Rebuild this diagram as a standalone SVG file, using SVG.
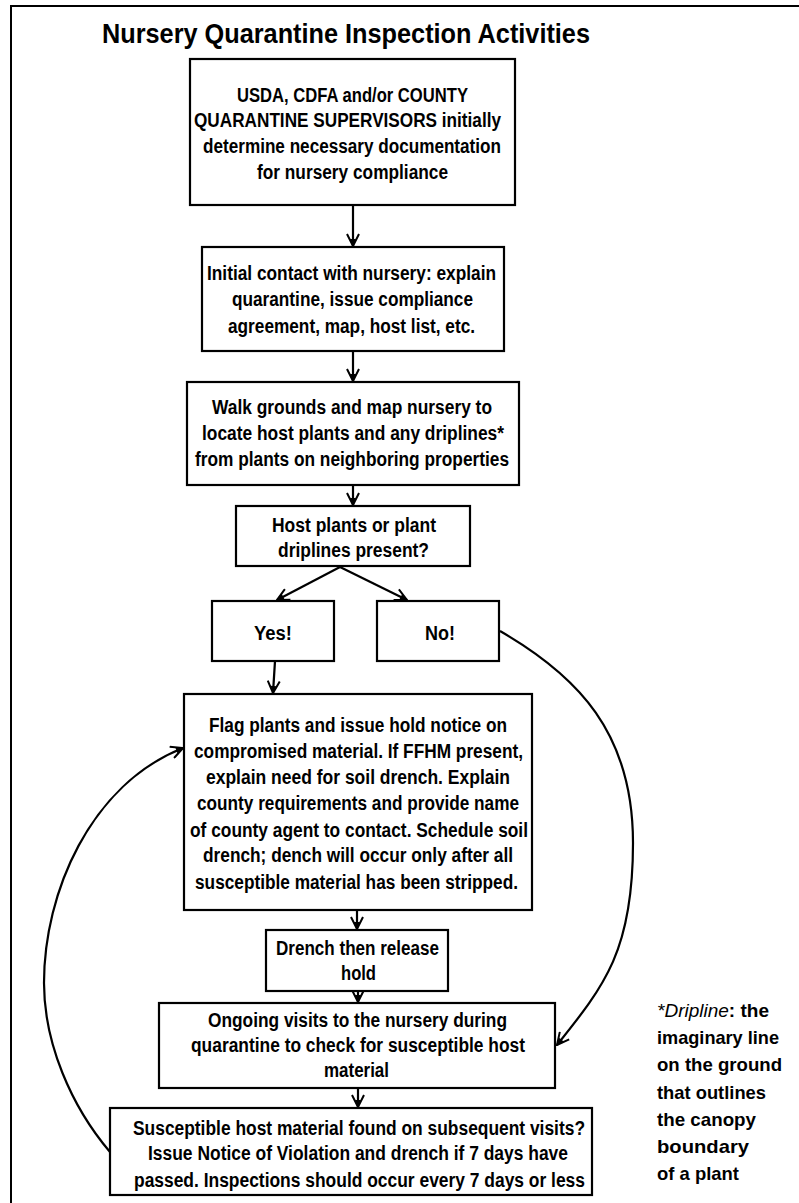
<svg xmlns="http://www.w3.org/2000/svg" width="799" height="1203" viewBox="0 0 799 1203">
<style>
  .box { fill: #ffffff; stroke: #000000; stroke-width: 2.2; }
  .t { font-family: "Liberation Sans", Arial, sans-serif; font-weight: bold; font-size: 20px; fill: #000000; }
  .title { font-family: "Liberation Sans", Arial, sans-serif; font-weight: bold; font-size: 27px; fill: #000000; }
  .note { font-family: "Liberation Sans", Arial, sans-serif; font-weight: bold; font-size: 19px; fill: #000000; }
  .c { fill: none; stroke: #000000; stroke-width: 2.2; }
</style>
<defs>
  <marker id="ah" viewBox="0 0 14 14" refX="13" refY="7" markerWidth="14" markerHeight="14" markerUnits="userSpaceOnUse" orient="auto">
    <path d="M1,1 L13,7 L1,13" fill="none" stroke="#000" stroke-width="2"/>
    <path d="M6,4 L13,7 L6,10 Z" fill="#000"/>
  </marker>
</defs>
<rect x="0" y="0" width="799" height="1203" fill="#ffffff"/>
<path d="M11,1203 V6 H799" fill="none" stroke="#000" stroke-width="2"/>
<text class="title" x="102" y="43" textLength="488" lengthAdjust="spacingAndGlyphs">Nursery Quarantine Inspection Activities</text>

<g id="connectors">
  <line class="c" x1="353" y1="205" x2="353" y2="246" marker-end="url(#ah)"/>
  <line class="c" x1="353" y1="351" x2="353" y2="381" marker-end="url(#ah)"/>
  <line class="c" x1="353" y1="485" x2="353" y2="505" marker-end="url(#ah)"/>
  <line class="c" x1="340" y1="567" x2="277" y2="600" marker-end="url(#ah)"/>
  <line class="c" x1="340" y1="567" x2="407" y2="600" marker-end="url(#ah)"/>
  <line class="c" x1="275" y1="661" x2="273" y2="693" marker-end="url(#ah)"/>
  <line class="c" x1="357" y1="910" x2="357" y2="929" marker-end="url(#ah)"/>
  <line class="c" x1="358" y1="991" x2="358" y2="1002" marker-end="url(#ah)"/>
  <line class="c" x1="358" y1="1088" x2="358" y2="1107" marker-end="url(#ah)"/>
  <path class="c" d="M500,631 C578,676 633,733 633,843 C633,950 605,985 557,1045" marker-end="url(#ah)"/>
  <path class="c" d="M110,1152 C71,1106 44,1043 44,983 C44,893 90,785 183,748" marker-end="url(#ah)"/>
</g>

<g id="n1">
  <rect class="box" x="190" y="59" width="325" height="146"/>
  <text class="t" x="237" y="102" textLength="231" lengthAdjust="spacingAndGlyphs">USDA, CDFA and/or COUNTY</text>
  <text class="t" x="194" y="127" textLength="307" lengthAdjust="spacingAndGlyphs">QUARANTINE SUPERVISORS initially</text>
  <text class="t" x="203" y="153" textLength="298" lengthAdjust="spacingAndGlyphs">determine necessary documentation</text>
  <text class="t" x="257" y="179" textLength="191" lengthAdjust="spacingAndGlyphs">for nursery compliance</text>
</g>
<g id="n2">
  <rect class="box" x="202" y="247" width="302" height="104"/>
  <text class="t" x="207" y="280" textLength="289" lengthAdjust="spacingAndGlyphs">Initial contact with nursery: explain</text>
  <text class="t" x="232" y="306" textLength="241" lengthAdjust="spacingAndGlyphs">quarantine, issue compliance</text>
  <text class="t" x="228" y="333" textLength="247" lengthAdjust="spacingAndGlyphs">agreement, map, host list, etc.</text>
</g>
<g id="n3">
  <rect class="box" x="187" y="382" width="332" height="103"/>
  <text class="t" x="212" y="414" textLength="280" lengthAdjust="spacingAndGlyphs">Walk grounds and map nursery to</text>
  <text class="t" x="202" y="440" textLength="302" lengthAdjust="spacingAndGlyphs">locate host plants and any driplines*</text>
  <text class="t" x="195" y="466" textLength="314" lengthAdjust="spacingAndGlyphs">from plants on neighboring properties</text>
</g>
<g id="n4">
  <rect class="box" x="236" y="506" width="234" height="60"/>
  <text class="t" x="272" y="532" textLength="164" lengthAdjust="spacingAndGlyphs">Host plants or plant</text>
  <text class="t" x="278" y="557" textLength="151" lengthAdjust="spacingAndGlyphs">driplines present?</text>
</g>
<g id="yes">
  <rect class="box" x="212" y="601" width="122" height="60"/>
  <text class="t" x="254" y="640" textLength="38" lengthAdjust="spacingAndGlyphs">Yes!</text>
</g>
<g id="no">
  <rect class="box" x="377" y="601" width="122" height="60"/>
  <text class="t" x="425" y="640" textLength="30" lengthAdjust="spacingAndGlyphs">No!</text>
</g>
<g id="flag">
  <rect class="box" x="184" y="694" width="348" height="216"/>
  <text class="t" x="209" y="732" textLength="298" lengthAdjust="spacingAndGlyphs">Flag plants and issue hold notice on</text>
  <text class="t" x="194" y="758" textLength="329" lengthAdjust="spacingAndGlyphs">compromised material. If FFHM present,</text>
  <text class="t" x="206" y="784" textLength="304" lengthAdjust="spacingAndGlyphs">explain need for soil drench. Explain</text>
  <text class="t" x="197" y="810" textLength="322" lengthAdjust="spacingAndGlyphs">county requirements and provide name</text>
  <text class="t" x="190" y="837" textLength="338" lengthAdjust="spacingAndGlyphs">of county agent to contact. Schedule soil</text>
  <text class="t" x="203" y="862" textLength="310" lengthAdjust="spacingAndGlyphs">drench; dench will occur only after all</text>
  <text class="t" x="195" y="889" textLength="323" lengthAdjust="spacingAndGlyphs">susceptible material has been stripped.</text>
</g>
<g id="drench">
  <rect class="box" x="266" y="930" width="182" height="61"/>
  <text class="t" x="276" y="955" textLength="163" lengthAdjust="spacingAndGlyphs">Drench then release</text>
  <text class="t" x="341" y="980" textLength="35" lengthAdjust="spacingAndGlyphs">hold</text>
</g>
<g id="ongoing">
  <rect class="box" x="159" y="1003" width="396" height="85"/>
  <text class="t" x="208" y="1027" textLength="299" lengthAdjust="spacingAndGlyphs">Ongoing visits to the nursery during</text>
  <text class="t" x="191" y="1052" textLength="334" lengthAdjust="spacingAndGlyphs">quarantine to check for susceptible host</text>
  <text class="t" x="324" y="1077" textLength="65" lengthAdjust="spacingAndGlyphs">material</text>
</g>
<g id="susceptible">
  <rect class="box" x="110" y="1108" width="482" height="87"/>
  <text class="t" x="133" y="1135" textLength="452" lengthAdjust="spacingAndGlyphs">Susceptible host material found on subsequent visits?</text>
  <text class="t" x="148" y="1160" textLength="420" lengthAdjust="spacingAndGlyphs">Issue Notice of Violation and drench if 7 days have</text>
  <text class="t" x="134" y="1187" textLength="451" lengthAdjust="spacingAndGlyphs">passed. Inspections should occur every 7 days or less</text>
</g>
<g id="dripline-note">
  <text class="note" x="657" y="1017" textLength="112" lengthAdjust="spacingAndGlyphs"><tspan font-style="italic" font-weight="normal">*Dripline</tspan>: the</text>
  <text class="note" x="657" y="1044" textLength="122" lengthAdjust="spacingAndGlyphs">imaginary line</text>
  <text class="note" x="657" y="1071" textLength="125" lengthAdjust="spacingAndGlyphs">on the ground</text>
  <text class="note" x="657" y="1099" textLength="109" lengthAdjust="spacingAndGlyphs">that outlines</text>
  <text class="note" x="657" y="1126" textLength="99" lengthAdjust="spacingAndGlyphs">the canopy</text>
  <text class="note" x="657" y="1153" textLength="92" lengthAdjust="spacingAndGlyphs">boundary</text>
  <text class="note" x="657" y="1180" textLength="82" lengthAdjust="spacingAndGlyphs">of a plant</text>
</g>
</svg>
